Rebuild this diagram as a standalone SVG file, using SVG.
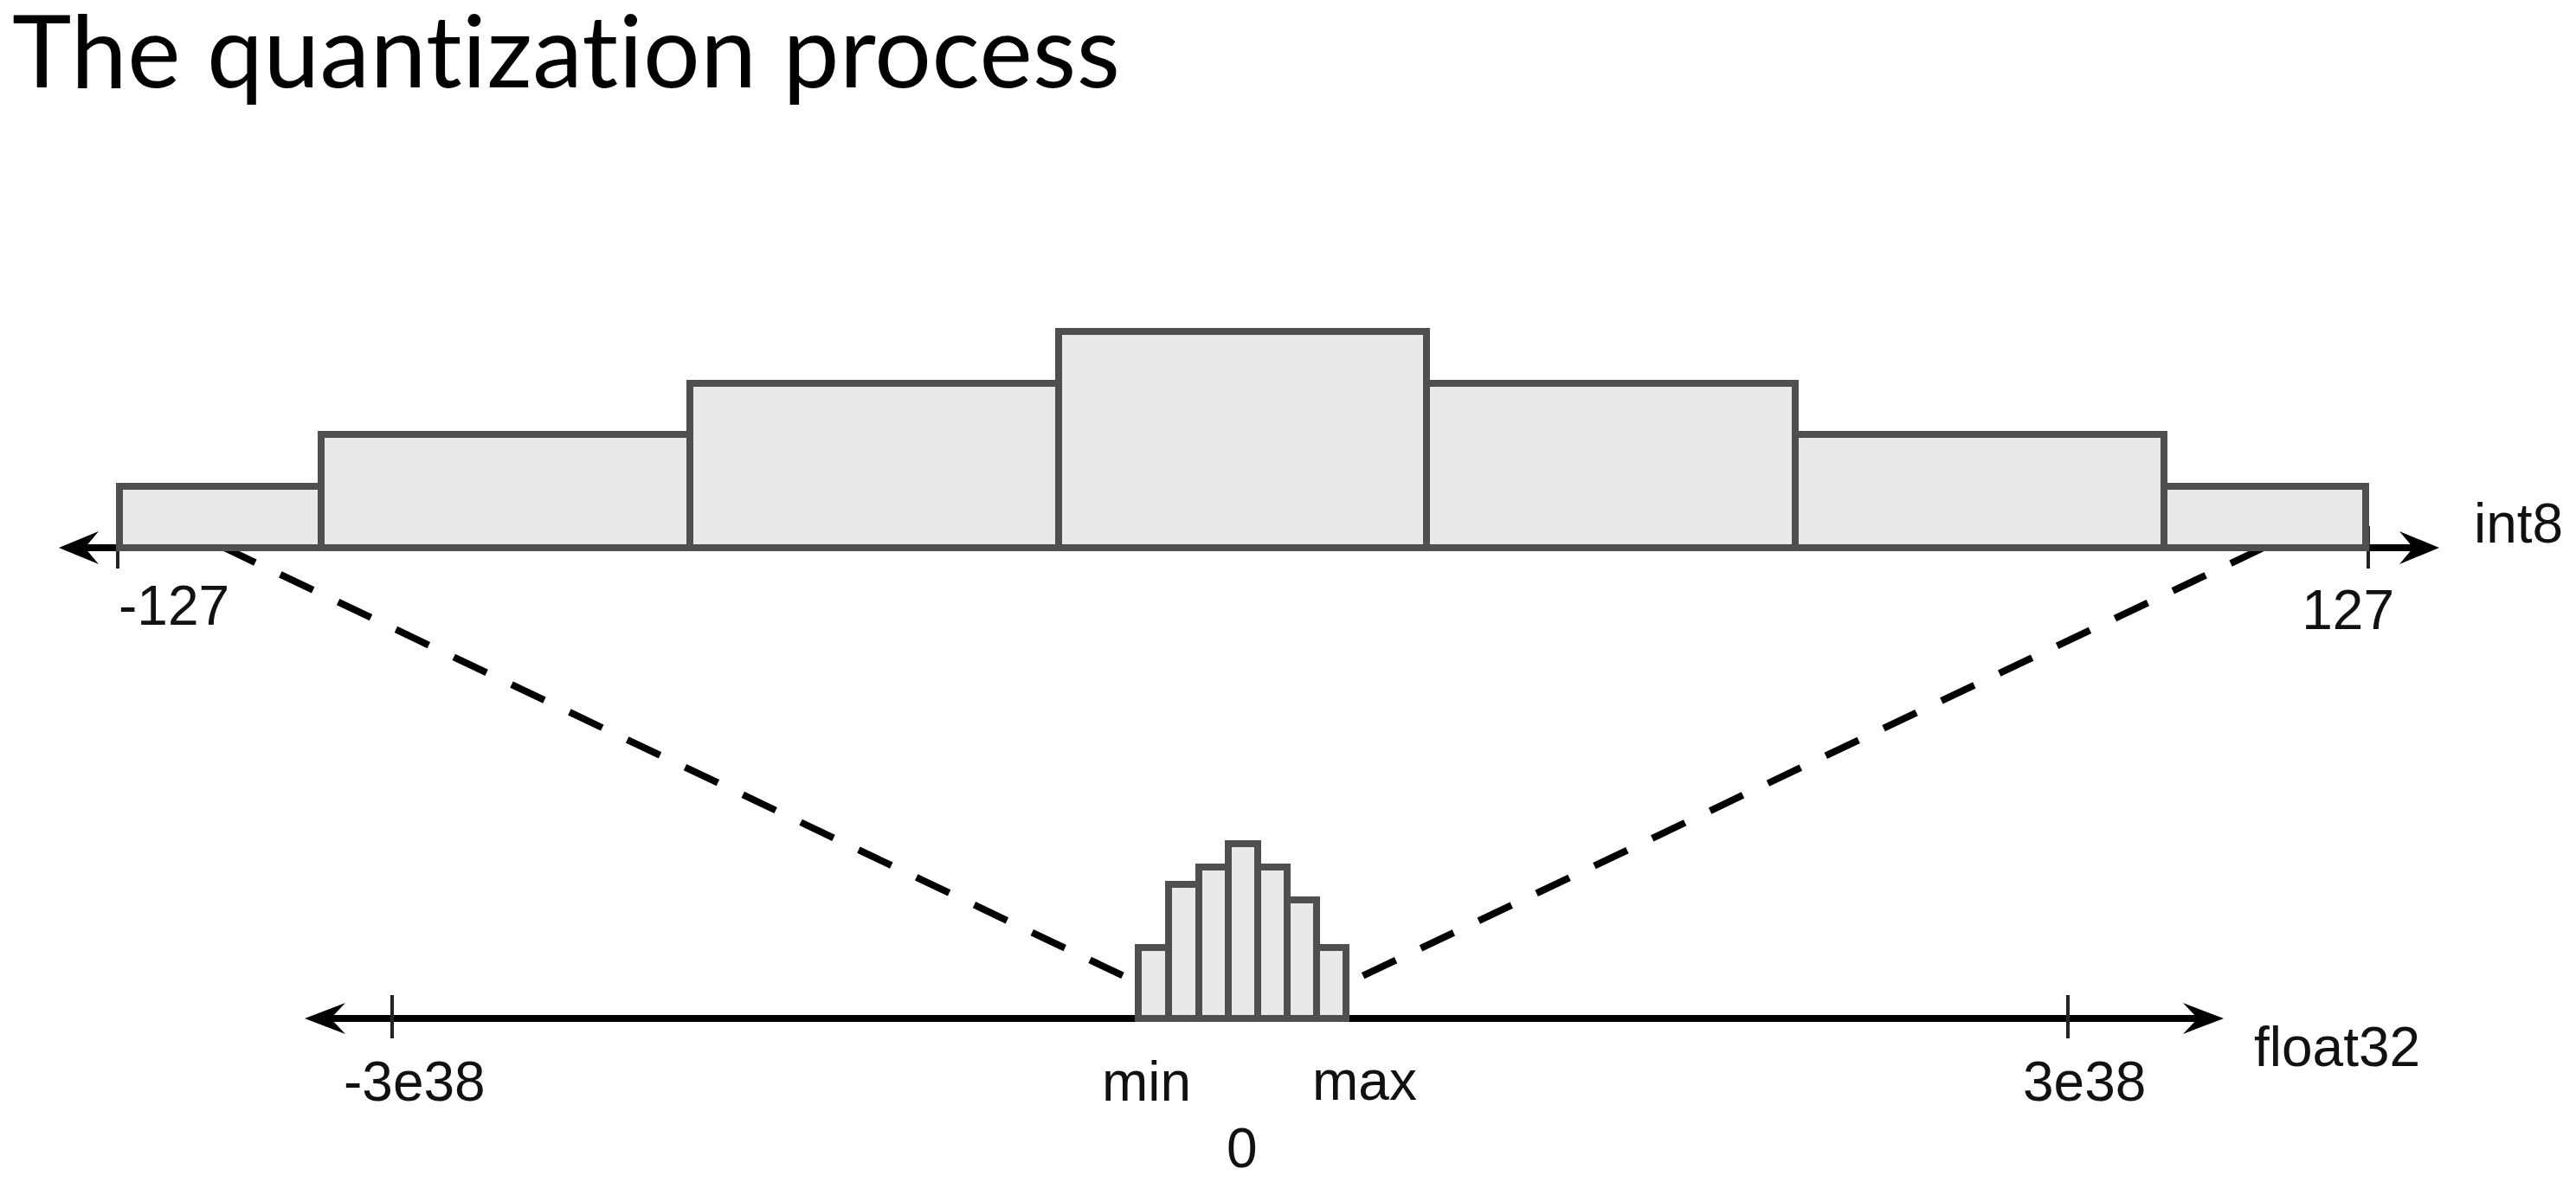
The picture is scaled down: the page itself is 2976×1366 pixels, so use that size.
<svg xmlns="http://www.w3.org/2000/svg" width="2976" height="1366" viewBox="0 0 2976 1366">
<style>
.bar{fill:#e9e9e9;stroke:#4f4f4f;stroke-width:8;stroke-linejoin:miter}
.axis{stroke:#000;stroke-width:8;fill:none}
.tick{stroke:#222;stroke-width:4}
.dash{stroke:#000;stroke-width:8;stroke-dasharray:42 32;fill:none}
.lbl{font-family:"Liberation Sans",Arial,sans-serif;font-size:64px;fill:#111}
.title{font-family:Lato,"Noto Sans",sans-serif;font-size:116px;fill:#000;font-variant-ligatures:none;font-feature-settings:"liga" 0}
.head{fill:#000}
</style>
<rect width="2976" height="1366" fill="#fff"/>
<text class="title" x="14" y="101" textLength="1280" lengthAdjust="spacing">The quantization process</text>

<g id="connectors">
  <line class="dash" x1="257" y1="632" x2="1315" y2="1136"/>
  <line class="dash" x1="2615" y1="633" x2="1555" y2="1137"/>
</g>

<g id="int8-axis">
  <line class="axis" x1="80" y1="633" x2="2806" y2="633"/>
  <path class="head" d="M68,633 L114,614 L98,633 L114,652 Z"/>
  <path class="head" d="M2818,633 L2772,614 L2788,633 L2772,652 Z"/>
  <line class="tick" x1="136" y1="608" x2="136" y2="657"/>
  <line class="tick" x1="2736" y1="608" x2="2736" y2="657"/>
  <text class="lbl" x="137" y="722">-127</text>
  <text class="lbl" x="2766" y="727" text-anchor="end">127</text>
  <text class="lbl" x="2858" y="627">int8</text>
</g>

<g id="int8-histogram">
  <rect class="bar" x="138" y="562" width="233" height="71"/>
  <rect class="bar" x="371" y="502" width="426" height="131"/>
  <rect class="bar" x="797" y="443" width="426" height="190"/>
  <rect class="bar" x="1223" y="383" width="425" height="250"/>
  <rect class="bar" x="1648" y="443" width="426" height="190"/>
  <rect class="bar" x="2074" y="502" width="426" height="131"/>
  <rect class="bar" x="2500" y="562" width="233" height="71"/>
</g>

<g id="float32-axis">
  <line class="axis" x1="364" y1="1177" x2="2557" y2="1177"/>
  <path class="head" d="M352,1177 L399,1159 L382,1177 L399,1195 Z"/>
  <path class="head" d="M2569,1177 L2522,1159 L2539,1177 L2522,1195 Z"/>
  <line class="tick" x1="453" y1="1150" x2="453" y2="1200"/>
  <line class="tick" x1="2389" y1="1150" x2="2389" y2="1200"/>
  <text class="lbl" x="397" y="1272">-3e38</text>
  <text class="lbl" x="2337" y="1272">3e38</text>
  <text class="lbl" x="2604" y="1232">float32</text>
  <text class="lbl" x="1273" y="1272">min</text>
  <text class="lbl" x="1516" y="1271">max</text>
  <text class="lbl" x="1417" y="1349">0</text>
</g>

<g id="float32-histogram">
  <rect class="bar" x="1315" y="1095" width="35" height="82"/>
  <rect class="bar" x="1350" y="1022" width="35" height="155"/>
  <rect class="bar" x="1385" y="1002" width="34" height="175"/>
  <rect class="bar" x="1419" y="975" width="34" height="202"/>
  <rect class="bar" x="1453" y="1002" width="34" height="175"/>
  <rect class="bar" x="1487" y="1040" width="34" height="137"/>
  <rect class="bar" x="1521" y="1095" width="34" height="82"/>
</g>
</svg>
